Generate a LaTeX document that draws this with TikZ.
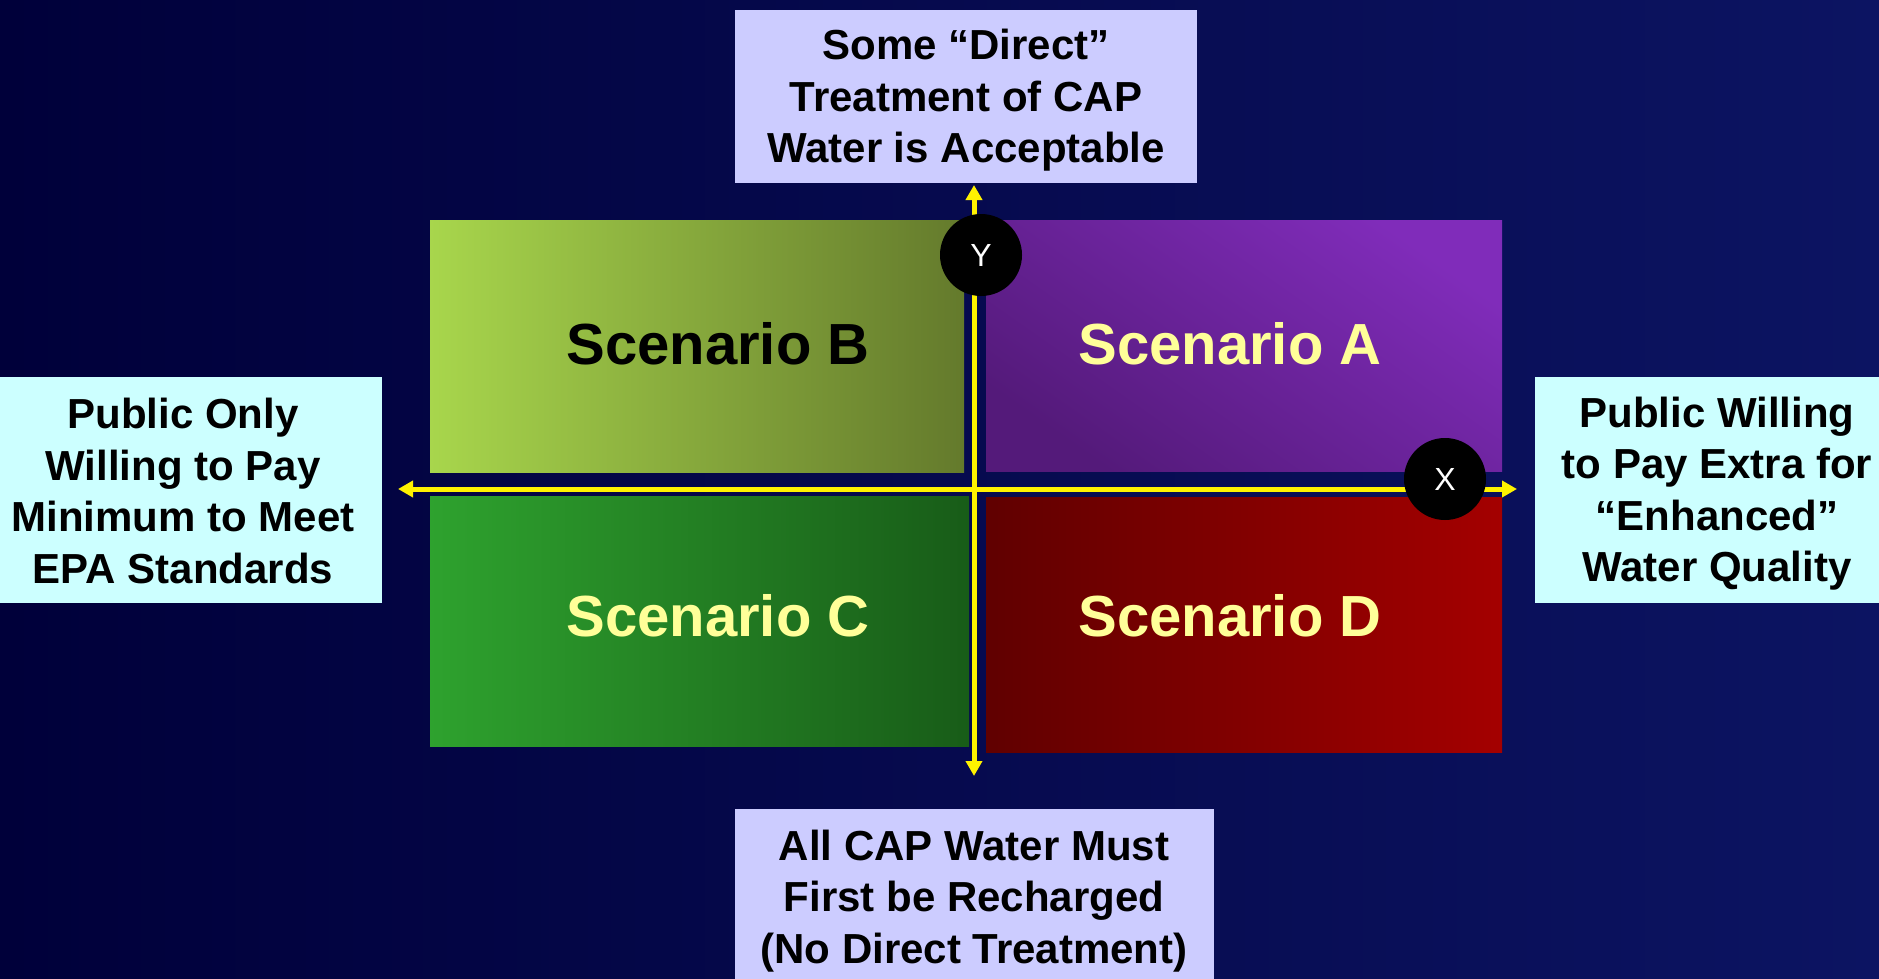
\documentclass[tikz,border=0pt]{standalone}
\usepackage{fontspec}
\setmainfont{Liberation Sans}
\usetikzlibrary{arrows.meta}
\definecolor{bgL}{RGB}{0,0,58}
\definecolor{bgR}{RGB}{12,20,98}
\definecolor{lav}{RGB}{204,204,255}
\definecolor{cyanl}{RGB}{204,255,255}
\definecolor{bL}{RGB}{168,214,76}
\definecolor{bR}{RGB}{100,122,44}
\definecolor{aD}{RGB}{84,26,122}
\definecolor{aL}{RGB}{128,44,186}
\definecolor{cL}{RGB}{46,162,46}
\definecolor{cR}{RGB}{24,92,24}
\definecolor{dL}{RGB}{96,0,0}
\definecolor{dR}{RGB}{164,0,0}
\definecolor{scyel}{RGB}{255,255,153}
\tikzset{
  quad/.style={draw=none, inner sep=0pt},
  lbl/.style={fill=#1, draw=none, inner sep=0pt},
  lbltext/.style={align=center, font=\fontsize{42pt}{51.5pt}\selectfont\bfseries, text=black, inner sep=0pt},
  sctext/.style={font=\fontsize{58pt}{66pt}\selectfont\bfseries, inner sep=0pt},
  axisarrow/.style={draw=yellow, line width=5pt, {Triangle[length=15pt,width=16pt]}-{Triangle[length=15pt,width=16pt]}},
  badge/.style={circle, fill=black, minimum size=82pt, inner sep=0pt, text=white, font=\fontsize{32pt}{36pt}\selectfont}
}
\begin{document}
\begin{tikzpicture}[x=1pt,y=-1pt]
\useasboundingbox (0,0) rectangle (1879,979);
\shade[left color=bgL, right color=bgR] (0,0) rectangle (1879,979);
% quadrants
\node[quad, left color=bL, right color=bR, minimum width=534pt, minimum height=252pt] (qb) at (697,346) {};
\node[quad, top color=aL, bottom color=aD, shading angle=-35, minimum width=516pt, minimum height=251pt] (qa) at (1244,345.5) {};
\node[quad, left color=cL, right color=cR, minimum width=539pt, minimum height=250pt] (qc) at (699.5,621) {};
\node[quad, left color=dL, right color=dR, minimum width=516pt, minimum height=255pt] (qd) at (1244,624.5) {};
\node[sctext, text=black] (tb) at (718,344) {Scenario B};
\node[sctext, text=scyel] (ta) at (1230,344) {Scenario A};
\node[sctext, text=scyel] (tc) at (718,616) {Scenario C};
\node[sctext, text=scyel] (td) at (1230,616) {Scenario D};
% axes
\coordinate (ytop) at (974,185);
\coordinate (ybot) at (974,776);
\coordinate (xl) at (398,489);
\coordinate (xr) at (1517,489);
\draw[axisarrow] (ybot) -- (ytop);
\draw[axisarrow] (xl) -- (xr);
% badges
\node[badge] (ybadge) at (981,255) {Y};
\node[badge] (xbadge) at (1445,479) {X};
% label boxes
\node[lbl=lav, minimum width=462pt, minimum height=173pt] (topbox) at (966,96.5) {};
\node[lbltext] (toptext) at (966,100.5) {Some “Direct”\\Treatment of CAP\\Water is Acceptable};
\node[lbl=lav, minimum width=479pt, minimum height=170pt] (botbox) at (974.5,894) {};
\node[lbltext] (bottext) at (974,901) {All CAP Water Must\\First be Recharged\\(No Direct Treatment)};
\node[lbl=cyanl, minimum width=382pt, minimum height=226pt] (leftbox) at (191,490) {};
\node[lbltext] (lefttext) at (183,491) {Public Only\\Willing to Pay\\Minimum to Meet\\EPA Standards};
\node[lbl=cyanl, minimum width=344pt, minimum height=226pt] (rightbox) at (1707,490) {};
\node[lbltext] (righttext) at (1717,493.5) {Public Willing\\to Pay Extra for\\“Enhanced”\\Water Quality};
\end{tikzpicture}
\end{document}
